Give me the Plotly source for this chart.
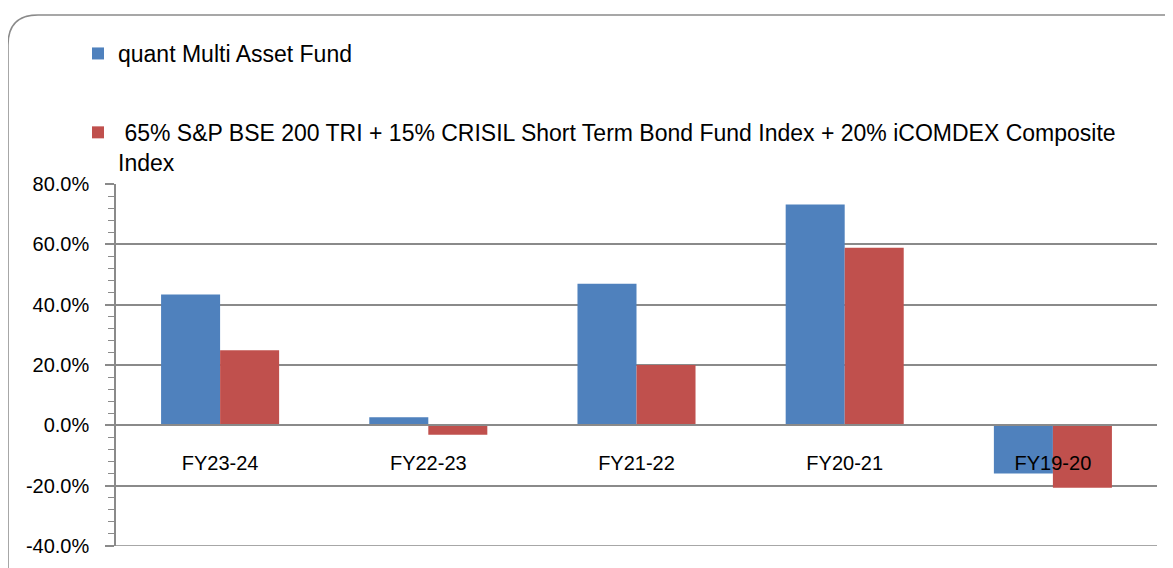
import plotly.graph_objects as go

categories = ["FY23-24", "FY22-23", "FY21-22", "FY20-21", "FY19-20"]
fund_returns = [43.4, 2.7, 46.9, 73.2, -16.0]
benchmark_returns = [24.9, -3.1, 20.0, 58.9, -20.7]
fund_name = "quant Multi Asset Fund"
bench_name = " 65% S&P BSE 200 TRI + 15% CRISIL Short Term Bond Fund Index + 20% iCOMDEX Composite<br>Index"
y_ticks = [-40, -20, 0, 20, 40, 60, 80]
y_tick_text = ["-40.0%", "-20.0%", "0.0%", "20.0%", "40.0%", "60.0%", "80.0%"]

# page body has an 8px margin; work in screen coordinates and shift
OFF = 8
W, H = 1173 - OFF, 568 - OFF
ML, MR, MT, MB = 116 - OFF, 16, 184 - OFF, 22
PW, PH = W - ML - MR, H - MT - MB
GRAY = "#8a8a8a"
FONT = "Liberation Sans, Arial, sans-serif"

def px_x(p):
    return (p - OFF - ML) / PW

def px_y(p):
    return (H - MB - (p - OFF)) / PH

ymin, ymax = y_ticks[0], y_ticks[-1]
zero_pos = (0 - ymin) / (ymax - ymin)
half_ticks = [i * 0.5 - 0.5 for i in range(2 * len(categories) + 1)]

fig = go.Figure()
fig.add_bar(x=categories, y=fund_returns, name=fund_name, marker_color="#4F81BD",
            marker_line_width=0, legendgroup="a")
fig.add_bar(x=categories, y=benchmark_returns, name=bench_name, marker_color="#C0504D",
            marker_line_width=0, legendgroup="b")

border = (f"M {px_x(8)} {px_y(600)} L {px_x(8)} {px_y(45)} "
          f"Q {px_x(8)} {px_y(15)} {px_x(38)} {px_y(15)} L {px_x(1200)} {px_y(15)}")

fig.update_layout(
    width=W, height=H,
    margin=dict(l=ML, r=MR, t=MT, b=MB),
    paper_bgcolor="white", plot_bgcolor="white",
    barmode="group", bargap=0.433, bargroupgap=0,
    font=dict(family=FONT, size=20, color="black"),
    showlegend=True,
    legend=dict(x=px_x(78), y=px_y(32), xanchor="left", yanchor="top", valign="top",
                font=dict(size=23, family=FONT, color="black"),
                tracegroupgap=46, traceorder="grouped", bgcolor="rgba(0,0,0,0)"),
    xaxis=dict(type="category", anchor="free", position=zero_pos,
               showline=True, linecolor=GRAY, linewidth=1.5,
               ticks="outside", ticklen=20, tickcolor="rgba(0,0,0,0)",
               showgrid=False, zeroline=False, tickfont=dict(size=20)),
    xaxis2=dict(overlaying="x", anchor="free", position=zero_pos, range=[-0.5, len(categories) - 0.5],
                tickvals=half_ticks, ticks="outside", ticklen=7, tickwidth=1.5, tickcolor=GRAY,
                showticklabels=False, showgrid=False, zeroline=False, showline=False),
    xaxis3=dict(overlaying="x", anchor="free", position=zero_pos, range=[-0.5, len(categories) - 0.5],
                tickvals=half_ticks, ticks="inside", ticklen=7, tickwidth=1.5, tickcolor=GRAY,
                showticklabels=False, showgrid=False, zeroline=False, showline=False),
    yaxis=dict(range=[ymin, ymax], tickvals=y_ticks, ticktext=y_tick_text,
               showgrid=True, gridcolor=GRAY, gridwidth=1.5,
               showline=True, linecolor=GRAY, linewidth=1.5, zeroline=False,
               ticks="outside", ticklen=9, tickwidth=1.5, tickcolor=GRAY,
               minor=dict(tick0=0, dtick=4, ticks="outside", ticklen=6, tickwidth=1.2, tickcolor=GRAY, showgrid=False),
               ticklabelstandoff=12, tickfont=dict(size=20)),
    yaxis2=dict(overlaying="y", anchor="x", side="left", range=[ymin, ymax], tickvals=y_ticks,
                ticks="inside", ticklen=6, tickwidth=1.5, tickcolor=GRAY,
                minor=dict(tick0=0, dtick=4, ticks="inside", ticklen=4, tickwidth=1.2, tickcolor=GRAY, showgrid=False),
                showticklabels=False, showgrid=False, zeroline=False, showline=False),
    shapes=[
        dict(type="path", xref="paper", yref="paper", path=border,
             line=dict(color=GRAY, width=1.5), layer="above"),
        dict(type="line", xref="paper", yref="y", x0=0, x1=1, y0=ymin, y1=ymin,
             line=dict(color=GRAY, width=1.5), layer="below"),
    ],
)

fig.write_html("out.html")
